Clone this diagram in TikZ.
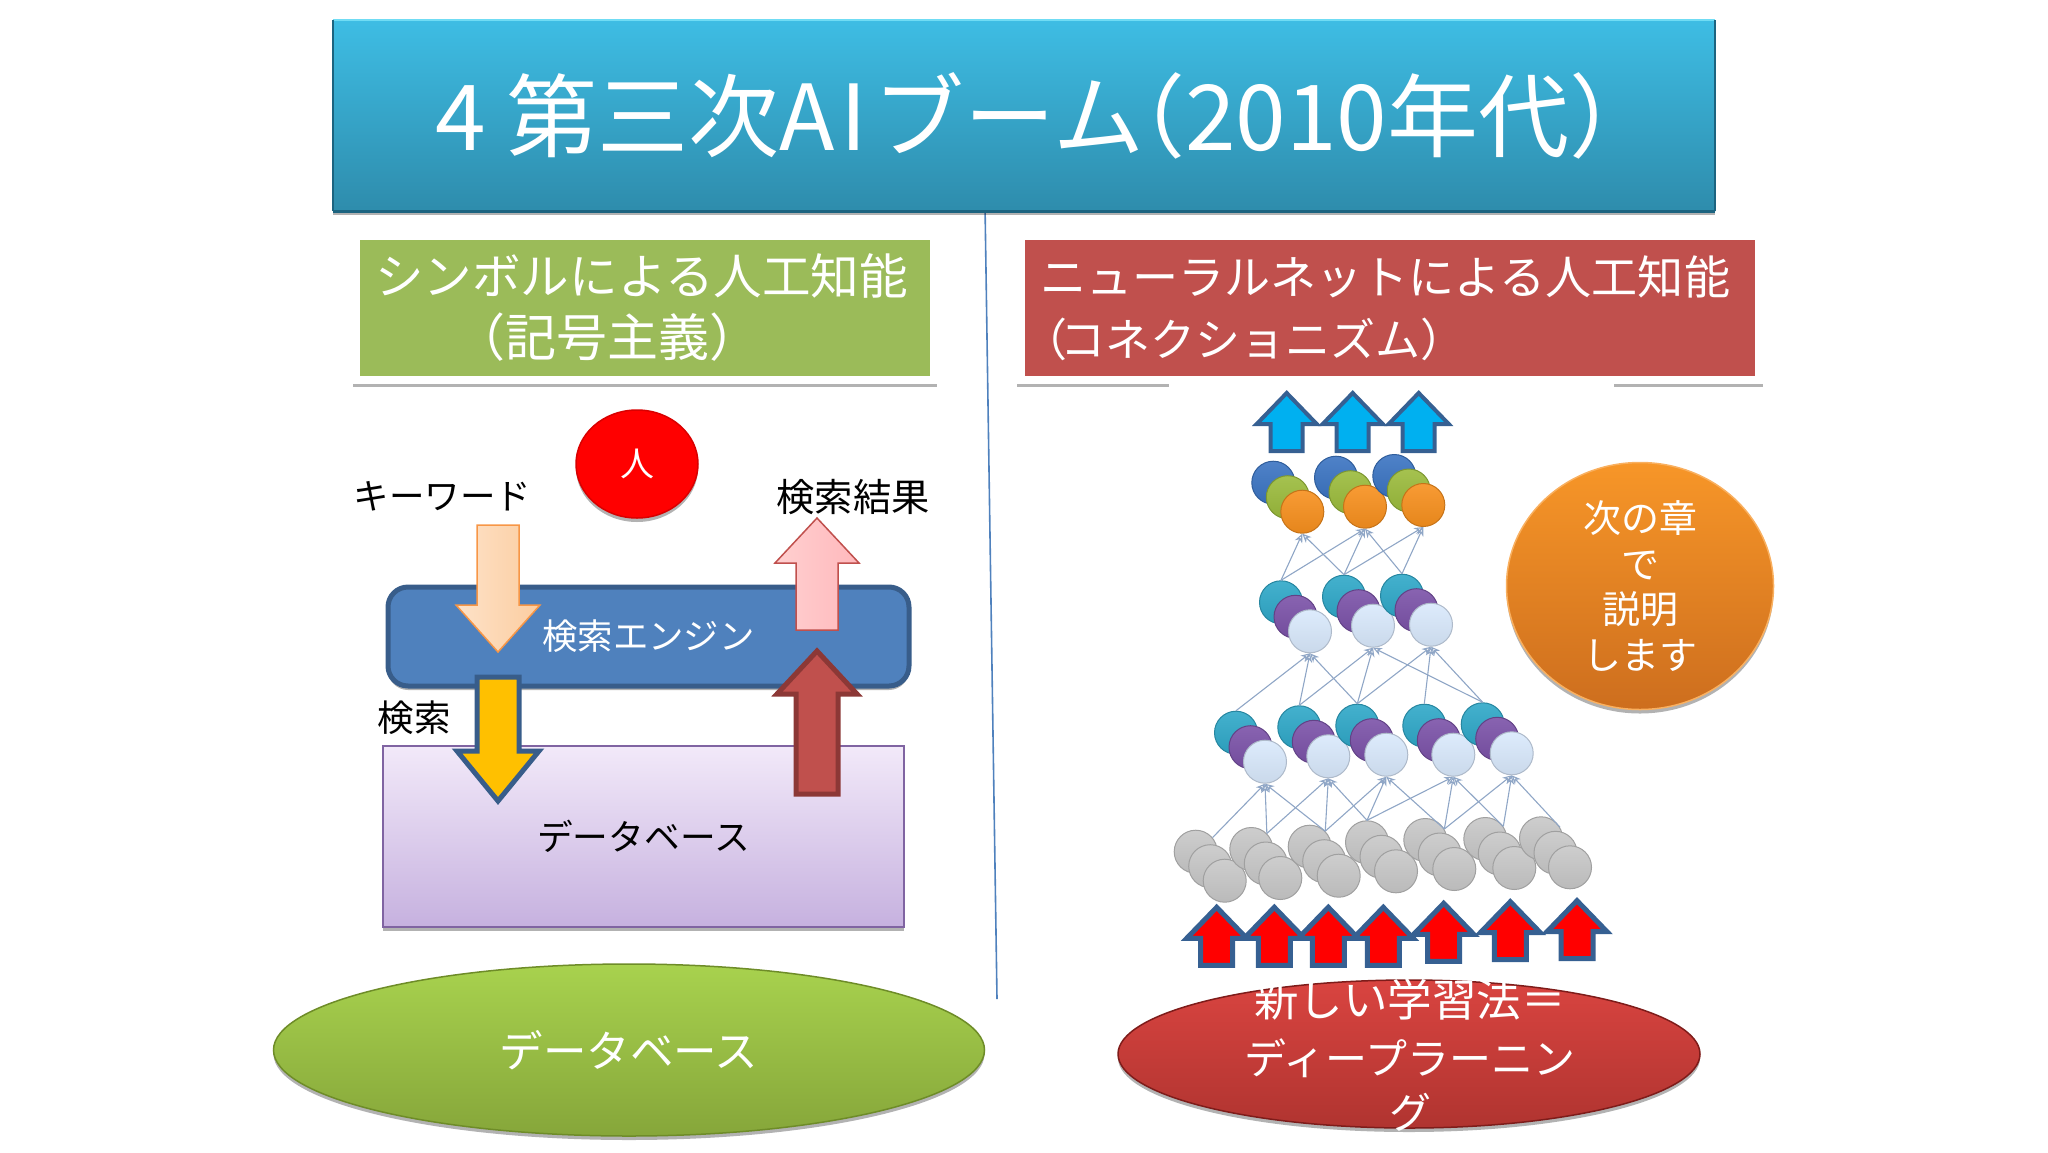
\documentclass[tikz,border=0pt]{standalone}
\usepackage{fontspec}
\setmainfont{Noto Sans CJK JP}
\usetikzlibrary{arrows.meta,shapes.geometric,shadows}
\newcommand{\blockarrow}[7]{\draw[#1] (#2-#6,#5) -- (#2+#6,#5) -- (#2+#6,#4) -- (#2+#7,#4) -- (#2,#3) -- (#2-#7,#4) -- (#2-#6,#4) -- cycle;}
\definecolor{linkblue}{HTML}{8FA6C6}
\definecolor{accblue}{HTML}{4F81BD}
\definecolor{edgeblue}{HTML}{385D8A}
\definecolor{deepblue}{HTML}{366092}
\definecolor{titletop}{HTML}{3EBDE4}
\definecolor{titlebot}{HTML}{2E8CAC}
\definecolor{titlehi}{HTML}{70DCF4}
\definecolor{titlelo}{HTML}{1C6480}
\definecolor{headgreen}{HTML}{9BBB59}
\definecolor{headred}{HTML}{C0504D}
\definecolor{darkred}{HTML}{8C3836}
\definecolor{dbtop}{HTML}{F2E9F9}
\definecolor{dbbot}{HTML}{C6B1DF}
\definecolor{dbedge}{HTML}{8064A2}
\definecolor{keyleft}{HTML}{FDE2C8}
\definecolor{keyright}{HTML}{FCCDA0}
\definecolor{keyedge}{HTML}{F79646}
\definecolor{resleft}{HTML}{FFD0D0}
\definecolor{resright}{HTML}{FFB8BC}
\definecolor{amber}{HTML}{FFC000}
\definecolor{skyfill}{HTML}{00B0F0}
\definecolor{notetop}{HTML}{F79628}
\definecolor{notebot}{HTML}{CD6E1E}
\definecolor{noteedge}{HTML}{F9B060}
\definecolor{gtop}{HTML}{A8D24E}
\definecolor{gbot}{HTML}{86A63A}
\definecolor{gedge}{HTML}{6E8C28}
\definecolor{rtop}{HTML}{D94440}
\definecolor{rbot}{HTML}{B03430}
\definecolor{redge}{HTML}{7E1C1A}
\definecolor{cblue}{HTML}{3B74C2}
\definecolor{cgreen}{HTML}{9BBB3C}
\definecolor{corange}{HTML}{F7901E}
\definecolor{cteal}{HTML}{2FA8C8}
\definecolor{cpurple}{HTML}{7B52A8}
\definecolor{cpale}{HTML}{D9E9FC}
\definecolor{cgray}{HTML}{C8C8C8}
\tikzset{
  lbl/.style={inner sep=0pt, outer sep=0pt, font=\fontsize{#1}{#1}\selectfont},
  softshadow/.style={drop shadow={shadow xshift=0pt, shadow yshift=-4pt, opacity=.3, fill=black}},
  framebox/.style={draw=white, line width=8pt, text=white, inner sep=0pt, align=left,
    drop shadow={shadow xshift=0pt, shadow yshift=-6pt, shadow scale=1.012, opacity=.3, fill=black},
    font=\fontsize{#1}{62}\selectfont},
  ball/.style={circle, minimum size=43pt, inner sep=0pt, top color=#1!90!white, bottom color=#1!93!black, draw=#1!80!black, line width=1pt},
  link/.style={draw=linkblue, line width=1.1pt, -{Stealth[open, length=9pt, width=8pt]}},
}

\begin{document}
\begin{tikzpicture}[x=1pt, y=-1pt]
  \useasboundingbox (0,0) rectangle (2048,1152);
  % dividing line
  \coordinate (divtop) at (985,205);
  \coordinate (divend) at (997,999);
  \draw[accblue, line width=1.6pt] (divtop)--(divend);
  % heading
  \node[softshadow, top color=titletop, bottom color=titlebot,
    minimum width=1382pt, minimum height=191pt, inner sep=0pt, text=white, font=\fontsize{91}{91}\selectfont]
    (title) at (1024,115.5) {\hspace*{48pt}4 第三次A\hspace{5pt}I\hspace{7pt}ブーム\hspace{-50pt}（2010年代）};
  \draw[titlehi, line width=2pt] (title.north west)--(title.north east);
  \draw[titlelo, line width=3pt] (title.south west)--(title.south east);
  \draw[titlelo, line width=1.5pt] (title.north west)--(title.south west);
  \draw[titlelo, line width=1.5pt] (title.north east)--(title.south east);
  % column heads
  \node[framebox=48.6, fill=headgreen, minimum width=578pt, minimum height=144pt, text width=540pt]
    (symhead) at (645,308) {シンボルによる人工知能\\\hspace*{79pt}\fontsize{51}{62}\selectfont（記号主義）};
  \node[framebox=46.1, fill=headred, minimum width=738pt, minimum height=144pt, text width=700pt]
    (neuhead) at (1390,308) {ニューラルネットによる人工知能\\\hspace*{-18pt}\fontsize{45}{62}\selectfont（\hspace{-7pt}コネクショニズム）};
  \fill[white] (1169,376) rectangle (1614,402);

  % left: search
  \node[softshadow, top color=dbtop, bottom color=dbbot, draw=dbedge, line width=2pt,
    minimum width=521pt, minimum height=181pt, inner sep=0pt,
    text=black, font=\fontsize{35.7}{35.7}\selectfont] (dbase) at (643.5,836.5) {データベース};
  \node[softshadow, rounded corners=20pt, fill=accblue, draw=edgeblue,
    line width=5pt, minimum width=521pt, minimum height=99pt, inner sep=0pt, text=white, font=\fontsize{35.4}{35.4}\selectfont]
    (engine) at (648.5,636.5) {検索エンジン};
  \node[softshadow, ellipse, minimum width=122pt, minimum height=108pt, inner sep=0pt, fill=red, draw=red!85!black, line width=1.5pt,
    text=white, font=\fontsize{34}{34}\selectfont] (person) at (637,464) {人};
  \node[lbl=35.5] (keyword) at (442.5,496) {キーワード};
  \node[lbl=38.3] (result) at (853,497) {検索結果};
  \node[lbl=36.5] (query) at (414,718) {検索};
  \blockarrow{left color=keyleft, right color=keyright, draw=keyedge, line width=1.5pt}{498}{652}{605}{525}{21}{42}
  \blockarrow{fill=amber, draw=edgeblue, line width=5pt}{498}{801}{751}{677}{21}{41}
  \blockarrow{left color=resleft, right color=resright, draw=headred, line width=1.5pt}{817}{518}{563}{630}{21}{42}
  \blockarrow{fill=headred, draw=darkred, line width=5pt}{817}{651}{694}{794}{21}{40}

  % right: network
  \foreach \i/\x/\y in {1/1273.3/482.7, 2/1336/477.7, 3/1394.3/476}{
    \node[ball=cblue] (ua\i) at (\x,\y) {};
    \node[ball=cgreen] (ub\i) at (\x+14.5,\y+14.5) {};
    \node[ball=corange] (uc\i) at (\x+29,\y+29) {};
  }
  \foreach \i/\x/\y in {1/1281/602.3, 2/1344/596.7, 3/1402/595.7}{
    \node[ball=cteal] (ma\i) at (\x,\y) {};
    \node[ball=cpurple] (mb\i) at (\x+14.5,\y+14.5) {};
    \node[ball=cpale] (mc\i) at (\x+29,\y+29) {};
  }
  \foreach \i/\x/\y in {1/1236/732.7, 2/1299.3/727.3, 3/1357.3/725.7, 4/1424.3/725.7, 5/1482.7/724.3}{
    \node[ball=cteal] (la\i) at (\x,\y) {};
    \node[ball=cpurple] (lb\i) at (\x+14.5,\y+14.5) {};
    \node[ball=cpale] (lc\i) at (\x+29,\y+29) {};
  }
  \foreach \i/\x/\y in {1/1195.7/851.7, 2/1251.3/849, 3/1309.7/846.7, 4/1367/842.3, 5/1425.3/840, 6/1485.3/839, 7/1541/838.3}{
    \node[ball=cgray] (ga\i) at (\x,\y) {};
    \node[ball=cgray] (gb\i) at (\x+14.5,\y+14.5) {};
    \node[ball=cgray] (gc\i) at (\x+29,\y+29) {};
  }
  \foreach \a/\b in {1/1, 1/2, 2/1, 2/2, 2/3, 3/2, 3/3}
    \draw[link] (ma\a.north)--(uc\b.south);
  \foreach \a/\b in {1/1, 2/1, 2/2, 3/1, 3/2, 3/3, 4/3, 5/2, 5/3}
    \draw[link] (la\a.north)--(mc\b.south);
  \foreach \a/\ang/\b in {1/40/1, 2/45/1, 3/45/1, 2/45/2, 3/45/2, 4/90/2, 3/45/3, 4/90/3, 5/30/3,
      4/90/4, 5/30/4, 6/35/4, 5/30/5, 6/35/5, 7/30/5}
    \draw[link] (ga\a.\ang)--(lc\b.south);
  \foreach \x in {1286.7, 1352.7, 1418.7}{
    \blockarrow{fill=skyfill, draw=deepblue, line width=4pt}{\x}{393}{424}{451}{16}{30}
  }
  \foreach \x/\y in {1216.7/907.3, 1274.3/907.3, 1328.3/907.3, 1383.3/907.3, 1443.7/903.3, 1510.3/901.7, 1577/900.7}{
    \blockarrow{fill=red, draw=deepblue, line width=5pt}{\x}{\y}{\y+31}{\y+58}{16}{30}
  }

  % note and bottom ovals
  \node[softshadow, ellipse, minimum width=267pt, minimum height=247pt, inner sep=0pt, draw=noteedge, line width=1.5pt,
    top color=notetop, bottom color=notebot] (note) at (1640,586) {};
  \node[lbl=38, text=white, align=center, font=\fontsize{38}{45.5}\selectfont] (notetext) at (note.center) {次の章\\で\\説明\\します};
  \node[softshadow, ellipse, minimum width=711pt, minimum height=172pt, inner sep=0pt, draw=gedge,
    line width=1.5pt, top color=gtop, bottom color=gbot,
    text=white, font=\fontsize{43.5}{43.5}\selectfont] (dbaseoval) at (629,1050) {データベース};
  \node[softshadow, ellipse, minimum width=582pt, minimum height=148pt, inner sep=0pt, draw=redge,
    line width=1.5pt, top color=rtop, bottom color=rbot] (learnoval) at (1409,1054) {};
  \node[lbl=42, text=white, align=center, font=\fontsize{42}{54.5}\selectfont] (learntext) at (1410,1055.5) {\fontsize{44.5}{54.5}\selectfont 新しい学習法＝\\[3pt]ディープラーニン\\グ};
\end{tikzpicture}
\end{document}
